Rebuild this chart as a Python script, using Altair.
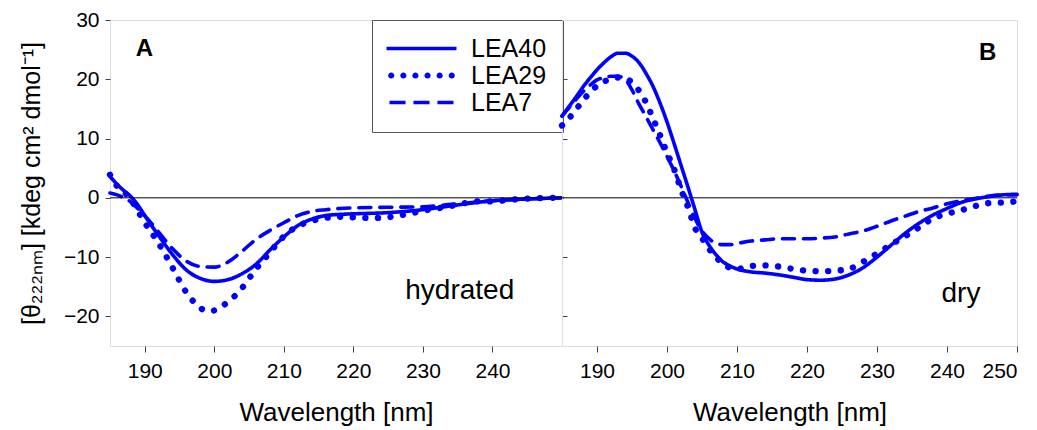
import altair as alt
import pandas as pd

series_names = ["LEA40", "LEA29", "LEA7"]
blue = "#0000ff"
font = "Liberation Sans"

# ---- Panel A (hydrated) ----
wl_a_40 = [185,186,187,188,189,190,192,194,196,198,200,202,204,206,208,210,212,214,216,218,220,225,230,235,240,245,250]
lea40_a = [3.6,2.3,1.2,0.2,-1.2,-3.0,-6.4,-9.6,-12.2,-13.6,-14.1,-13.8,-12.8,-11.2,-8.8,-6.6,-4.7,-3.6,-3.0,-2.8,-2.7,-2.5,-2.0,-1.2,-0.5,-0.2,0.0]

wl_a_29 = [185,186,187,188,189,190,191,192,193,194,195,196,197,198,199,200,201,202,203,204,205,206,207,208,209,210,
           212,214,216,218,220,222,224,226,228,230,232,234,236,238,240,242,244,246,248,250]
lea29_a = [3.9,2.0,1.0,-0.3,-2.2,-4.2,-5.9,-7.7,-9.7,-11.8,-14.0,-16.0,-17.5,-18.6,-19.1,-19.0,-18.4,-17.5,-16.5,-15.2,
           -13.6,-12.0,-10.6,-9.2,-7.8,-6.5,-4.8,-3.9,-3.4,-3.2,-3.3,-3.4,-3.4,-3.1,-2.7,-2.2,-1.8,-1.4,-0.9,-0.6,
           -0.6,-0.4,-0.2,-0.1,0.0,0.0]

wl_a_7 = [185,186,187,188,189,190,192,194,196,198,200,202,204,206,208,210,212,214,216,218,220,225,230,235,240,245,250]
lea7_a = [0.8,0.5,0.0,-0.7,-1.8,-3.0,-5.8,-8.6,-10.7,-11.6,-11.7,-10.8,-9.0,-7.0,-5.5,-4.2,-3.0,-2.3,-2.0,-1.8,-1.7,-1.6,-1.5,-1.0,-0.5,-0.2,0.0]

# ---- Panel B (dry) ----
wl_b = [185,186,187,188,189,190,191,192,193,194,195,196,197,198,199,200,201,202,203,204,205,206,207,208,209,210,
        212,214,216,218,220,222,224,226,228,230,232,234,236,238,240,242,244,246,248,250]
lea40_b = [13.8,15.4,17.0,18.7,20.2,21.6,22.8,23.8,24.4,24.4,23.9,22.8,21.0,18.8,16.0,12.8,9.2,5.5,1.8,-2.0,
           -5.8,-8.0,-9.6,-10.8,-11.5,-12.0,-12.5,-12.7,-13.0,-13.4,-13.8,-13.9,-13.7,-13.0,-11.8,-10.0,
           -8.0,-6.0,-4.3,-2.9,-1.8,-0.8,-0.2,0.2,0.5,0.6]
lea29_b = [12.2,13.4,14.9,16.4,17.8,18.9,19.6,20.1,20.3,20.1,19.5,18.1,16.1,13.4,10.6,7.6,4.9,1.4,-1.6,-5.1,
           -6.8,-8.6,-10.0,-11.2,-11.8,-12.0,-11.5,-11.4,-11.6,-12.0,-12.3,-12.4,-12.3,-12.0,-10.8,-9.4,
           -7.9,-6.5,-5.0,-3.5,-2.7,-2.1,-1.4,-0.9,-0.8,-0.6]
lea7_b = [13.8,15.2,16.6,17.9,19.0,19.9,20.3,20.5,20.5,20.0,18.2,15.8,13.7,11.5,9.3,7.0,4.6,2.0,-0.8,-3.5,
          -5.6,-6.9,-7.7,-7.9,-7.9,-7.7,-7.3,-7.1,-6.9,-6.9,-6.9,-6.8,-6.6,-6.1,-5.6,-4.8,
          -3.9,-3.1,-2.3,-1.7,-1.0,-0.5,-0.1,0.3,0.5,0.5]

x_ticks_a = [190, 200, 210, 220, 230, 240]
x_ticks_b = [190, 200, 210, 220, 230, 240, 250]
y_ticks = [-20, -10, 0, 10, 20, 30]
y_side_ticks = [-20, -10, 10, 20]

labels_a = pd.DataFrame({"wl": [189.95, 235.3], "val": [25.1, -17.15], "t": ["A", "hydrated"]})
labels_b = pd.DataFrame({"wl": [245.8, 242.0], "val": [24.5, -17.6], "t": ["B", "dry"]})
zero_df = pd.DataFrame({"val": [0]})


def long_df(parts):
    rows = []
    for name, wls, vals in parts:
        for order, (w, v) in enumerate(zip(wls, vals)):
            rows.append({"series": name, "wl": w, "val": v, "o": order})
    return pd.DataFrame(rows)


df_a = long_df([("LEA40", wl_a_40, lea40_a), ("LEA29", wl_a_29, lea29_a), ("LEA7", wl_a_7, lea7_a)])
df_b = long_df([("LEA40", wl_b, lea40_b), ("LEA29", wl_b, lea29_b), ("LEA7", wl_b, lea7_b)])

xscale = alt.Scale(domain=[185, 250], nice=False, zero=False)
yscale = alt.Scale(domain=[-25, 30], nice=False, zero=False)


def xenc(ticks):
    return alt.X("wl:Q", scale=xscale,
                 axis=alt.Axis(values=ticks, title="Wavelength [nm]", labelFontSize=21, titleFontSize=26,
                               tickSize=6, labelPadding=8, titlePadding=18, titleFontWeight="normal",
                               labelFont=font, titleFont=font, labelColor="black", titleColor="black",
                               tickColor="#444", domain=False, grid=False))


# legend sample glyphs (unit square coordinates, scaled by the legend symbol size)
def circle(cx, r):
    return f"M{cx - r:.3f},0a{r},{r} 0 1,0 {2 * r:.3f},0a{r},{r} 0 1,0 {-2 * r:.3f},0Z"


solid_glyph = "M-3.18,-0.17H3.18V0.17H-3.18Z"
dotted_glyph = "".join(circle(c, 0.28) for c in [-2.75, -1.65, -0.55, 0.55, 1.65, 2.75])
dashed_glyph = "M-2.91,-0.17H-1.45V0.17H-2.91ZM-0.73,-0.17H0.73V0.17H-0.73ZM1.45,-0.17H2.91V0.17H1.45Z"

dash_scale = alt.Scale(domain=series_names, range=[[1, 0], [0.1, 12.5], [12, 9]])
width_scale = alt.Scale(type="ordinal", domain=series_names, range=[3.6, 6.3, 3.6])
shape_scale = alt.Scale(domain=series_names, range=[solid_glyph, dotted_glyph, dashed_glyph])


def lines(df, ticks, yaxis):
    return alt.Chart(df).mark_line(color=blue, strokeCap="round", strokeJoin="round", interpolate="monotone").encode(
        x=xenc(ticks),
        y=alt.Y("val:Q", scale=yscale, axis=yaxis),
        order="o:Q",
        strokeDash=alt.StrokeDash("series:N", scale=dash_scale, legend=None),
        strokeWidth=alt.StrokeWidth("series:N", scale=width_scale, legend=None),
        detail="series:N",
    )


legend_layer = alt.Chart(df_a).transform_filter("false").mark_point(
    filled=True, color=blue, size=484, opacity=1, strokeWidth=0).encode(
    x=xenc(x_ticks_a),
    y=alt.Y("val:Q", scale=yscale, axis=None),
    shape=alt.Shape("series:N", scale=shape_scale, legend=alt.Legend(
        title=None, orient="none", legendX=262, legendY=0,
        symbolSize=484, symbolFillColor=blue, symbolStrokeWidth=0, symbolOpacity=1,
        labelFont=font, labelFontSize=25, labelColor="black", labelOffset=37, symbolOffset=21,
        padding=16, rowPadding=1, strokeColor="#555", fillColor="white")),
)

yaxis_main = alt.Axis(values=y_ticks, title="[θ₂₂₂ₙₘ] [kdeg cm² dmol⁻¹]", labelFontSize=21, titleFontSize=25,
                      tickSize=5, labelPadding=6, titlePadding=25, titleFontWeight="normal",
                      labelFont=font, titleFont=font, labelColor="black", titleColor="black",
                      tickColor="#444", domain=False, grid=False, minExtent=41, maxExtent=41)


def zero_rule(yaxis):
    return alt.Chart(zero_df).mark_rule(color="black", strokeWidth=1).encode(
        y=alt.Y("val:Q", scale=yscale, axis=yaxis),
    )


side_axis = alt.Axis(orient="right", values=y_side_ticks, labels=False, title=None, tickSize=5,
                     tickColor="#444", domain=False, grid=False, minExtent=0, maxExtent=0)


def texts(df, ticks):
    big = alt.Chart(df).transform_filter(alt.FieldOneOfPredicate(field="t", oneOf=["A", "B"])).mark_text(
        font=font, fontSize=24, fontWeight="bold", color="black", align="center", baseline="middle").encode(
        x=xenc(ticks), y=alt.Y("val:Q", scale=yscale, axis=None), text="t:N")
    small = alt.Chart(df).transform_filter(alt.FieldOneOfPredicate(field="t", oneOf=["hydrated", "dry"])).mark_text(
        font=font, fontSize=28, color="black", align="center", baseline="alphabetic").encode(
        x=xenc(ticks), y=alt.Y("val:Q", scale=yscale, axis=None), text="t:N")
    return big + small


panel_a = alt.layer(
    lines(df_a, x_ticks_a, yaxis_main),
    zero_rule(side_axis),
    texts(labels_a, x_ticks_a),
    legend_layer,
).resolve_axis(y="independent").properties(width=452, height=326)

panel_b = alt.layer(
    zero_rule(None),
    lines(df_b, x_ticks_b, None),
    texts(labels_b, x_ticks_b),
).properties(width=455, height=326)

chart = alt.hconcat(panel_a, panel_b, spacing=0, bounds="flush").resolve_scale(
    shape="independent"
).resolve_legend(shape="independent").properties(
    padding={"left": 10, "top": 0, "right": 4, "bottom": 0}
).configure_view(stroke="#555", strokeWidth=1).configure(background="white")

chart.save("out.html", embed_options={"renderer": "svg", "actions": False})
